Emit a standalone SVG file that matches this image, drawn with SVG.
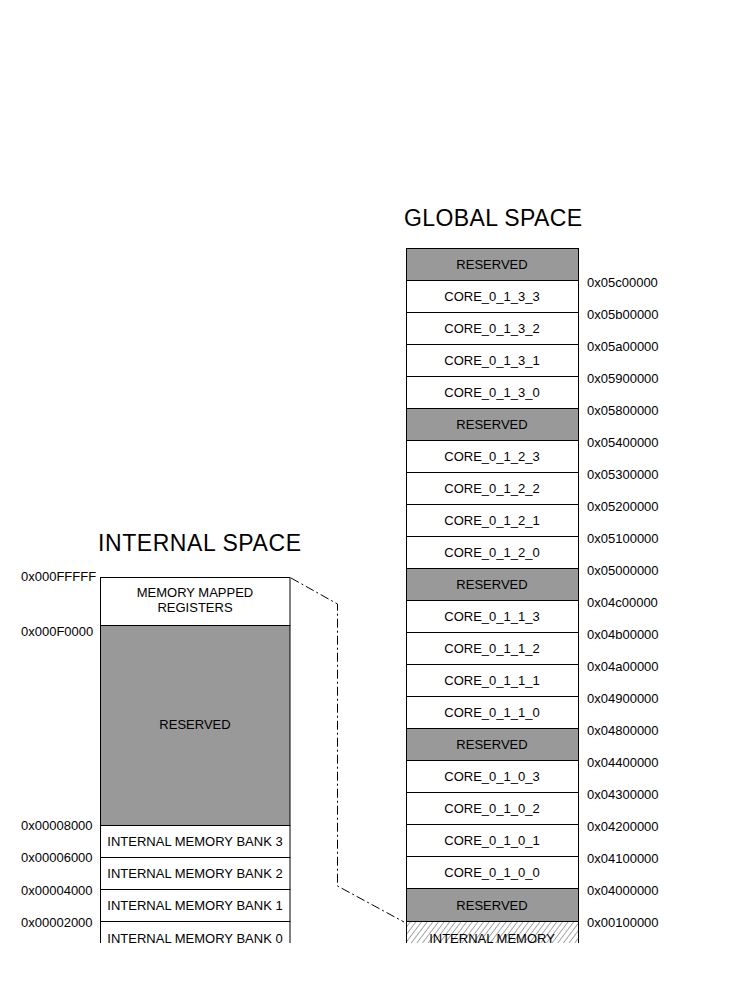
<svg xmlns="http://www.w3.org/2000/svg" width="741" height="981" viewBox="0 0 741 981">
  <style>
    .box { stroke: #000; stroke-width: 1; }
    .res { fill: #999999; }
    .mem { fill: #ffffff; }
    .t { font-family: "Liberation Sans", Arial, sans-serif; font-size: 13px; fill: #000; }
    .c { text-anchor: middle; }
    .title { font-family: "Liberation Sans", Arial, sans-serif; font-size: 23px; fill: #000; }
    .link { fill: none; stroke: #000; stroke-width: 1; stroke-dasharray: 9 3 2 3; }
  </style>
  <defs>
    <clipPath id="pageClip"><rect x="0" y="0" width="741" height="943"/></clipPath>
    <pattern id="hatch" patternUnits="userSpaceOnUse" width="4.5" height="6" patternTransform="rotate(37)">
      <rect width="4.5" height="6" fill="#fff"/>
      <line x1="0" y1="0" x2="0" y2="6" stroke="#333" stroke-width="0.9"/>
    </pattern>
  </defs>
  <rect width="741" height="981" fill="#fff"/>

  <g clip-path="url(#pageClip)">
    <!-- titles -->
    <text class="title" x="404" y="226" textLength="178">GLOBAL SPACE</text>
    <text class="title" x="98" y="551" textLength="203">INTERNAL SPACE</text>

    <!-- internal address map -->
    <g id="int-mmr"><rect class="box mem" x="100.5" y="577.5" width="189.5" height="48"/>
      <text class="t c" x="195" y="597">MEMORY MAPPED</text>
      <text class="t c" x="195" y="612">REGISTERS</text></g>
    <g id="int-reserved"><rect class="box res" x="100.5" y="625.5" width="189.5" height="200"/>
      <text class="t c" x="195" y="729">RESERVED</text></g>
    <g id="int-bank3"><rect class="box mem" x="100.5" y="825.5" width="189.5" height="32"/>
      <text class="t c" x="195" y="846">INTERNAL MEMORY BANK 3</text></g>
    <g id="int-bank2"><rect class="box mem" x="100.5" y="857.5" width="189.5" height="32"/>
      <text class="t c" x="195" y="878">INTERNAL MEMORY BANK 2</text></g>
    <g id="int-bank1"><rect class="box mem" x="100.5" y="889.5" width="189.5" height="32"/>
      <text class="t c" x="195" y="910">INTERNAL MEMORY BANK 1</text></g>
    <g id="int-bank0"><rect class="box mem" x="100.5" y="921.5" width="189.5" height="40"/>
      <text class="t c" x="195" y="942.5">INTERNAL MEMORY BANK 0</text></g>

    <g id="int-addresses">
      <text class="t" x="21" y="581">0x000FFFFF</text>
      <text class="t" x="21" y="636">0x000F0000</text>
      <text class="t" x="21" y="830">0x00008000</text>
      <text class="t" x="21" y="862">0x00006000</text>
      <text class="t" x="21" y="895">0x00004000</text>
      <text class="t" x="21" y="927">0x00002000</text>
    </g>

    <!-- global address map -->
    <g id="g-res-4"><rect class="box res" x="406.5" y="248.5" width="172" height="32"/><text class="t c" x="492" y="269">RESERVED</text></g>
    <g id="g-core-0-1-3-3"><rect class="box mem" x="406.5" y="280.5" width="172" height="32"/><text class="t c" x="492" y="301">CORE_0_1_3_3</text></g>
    <g id="g-core-0-1-3-2"><rect class="box mem" x="406.5" y="312.5" width="172" height="32"/><text class="t c" x="492" y="333">CORE_0_1_3_2</text></g>
    <g id="g-core-0-1-3-1"><rect class="box mem" x="406.5" y="344.5" width="172" height="32"/><text class="t c" x="492" y="365">CORE_0_1_3_1</text></g>
    <g id="g-core-0-1-3-0"><rect class="box mem" x="406.5" y="376.5" width="172" height="32"/><text class="t c" x="492" y="397">CORE_0_1_3_0</text></g>
    <g id="g-res-3"><rect class="box res" x="406.5" y="408.5" width="172" height="32"/><text class="t c" x="492" y="429">RESERVED</text></g>
    <g id="g-core-0-1-2-3"><rect class="box mem" x="406.5" y="440.5" width="172" height="32"/><text class="t c" x="492" y="461">CORE_0_1_2_3</text></g>
    <g id="g-core-0-1-2-2"><rect class="box mem" x="406.5" y="472.5" width="172" height="32"/><text class="t c" x="492" y="493">CORE_0_1_2_2</text></g>
    <g id="g-core-0-1-2-1"><rect class="box mem" x="406.5" y="504.5" width="172" height="32"/><text class="t c" x="492" y="525">CORE_0_1_2_1</text></g>
    <g id="g-core-0-1-2-0"><rect class="box mem" x="406.5" y="536.5" width="172" height="32"/><text class="t c" x="492" y="557">CORE_0_1_2_0</text></g>
    <g id="g-res-2"><rect class="box res" x="406.5" y="568.5" width="172" height="32"/><text class="t c" x="492" y="589">RESERVED</text></g>
    <g id="g-core-0-1-1-3"><rect class="box mem" x="406.5" y="600.5" width="172" height="32"/><text class="t c" x="492" y="621">CORE_0_1_1_3</text></g>
    <g id="g-core-0-1-1-2"><rect class="box mem" x="406.5" y="632.5" width="172" height="32"/><text class="t c" x="492" y="653">CORE_0_1_1_2</text></g>
    <g id="g-core-0-1-1-1"><rect class="box mem" x="406.5" y="664.5" width="172" height="32"/><text class="t c" x="492" y="685">CORE_0_1_1_1</text></g>
    <g id="g-core-0-1-1-0"><rect class="box mem" x="406.5" y="696.5" width="172" height="32"/><text class="t c" x="492" y="717">CORE_0_1_1_0</text></g>
    <g id="g-res-1"><rect class="box res" x="406.5" y="728.5" width="172" height="32"/><text class="t c" x="492" y="749">RESERVED</text></g>
    <g id="g-core-0-1-0-3"><rect class="box mem" x="406.5" y="760.5" width="172" height="32"/><text class="t c" x="492" y="781">CORE_0_1_0_3</text></g>
    <g id="g-core-0-1-0-2"><rect class="box mem" x="406.5" y="792.5" width="172" height="32"/><text class="t c" x="492" y="813">CORE_0_1_0_2</text></g>
    <g id="g-core-0-1-0-1"><rect class="box mem" x="406.5" y="824.5" width="172" height="32"/><text class="t c" x="492" y="845">CORE_0_1_0_1</text></g>
    <g id="g-core-0-1-0-0"><rect class="box mem" x="406.5" y="856.5" width="172" height="32"/><text class="t c" x="492" y="877">CORE_0_1_0_0</text></g>
    <g id="g-res-0"><rect class="box res" x="406.5" y="888.5" width="172" height="33"/><text class="t c" x="492" y="910">RESERVED</text></g>
    <g id="g-internal"><rect class="box" fill="url(#hatch)" x="406.5" y="921.5" width="172" height="40"/><text class="t c" x="492" y="942.5">INTERNAL MEMORY</text></g>

    <g id="g-addresses">
      <text class="t" x="587" y="287">0x05c00000</text>
      <text class="t" x="587" y="319">0x05b00000</text>
      <text class="t" x="587" y="351">0x05a00000</text>
      <text class="t" x="587" y="383">0x05900000</text>
      <text class="t" x="587" y="415">0x05800000</text>
      <text class="t" x="587" y="447">0x05400000</text>
      <text class="t" x="587" y="479">0x05300000</text>
      <text class="t" x="587" y="511">0x05200000</text>
      <text class="t" x="587" y="543">0x05100000</text>
      <text class="t" x="587" y="575">0x05000000</text>
      <text class="t" x="587" y="607">0x04c00000</text>
      <text class="t" x="587" y="639">0x04b00000</text>
      <text class="t" x="587" y="671">0x04a00000</text>
      <text class="t" x="587" y="703">0x04900000</text>
      <text class="t" x="587" y="735">0x04800000</text>
      <text class="t" x="587" y="767">0x04400000</text>
      <text class="t" x="587" y="799">0x04300000</text>
      <text class="t" x="587" y="831">0x04200000</text>
      <text class="t" x="587" y="863">0x04100000</text>
      <text class="t" x="587" y="895">0x04000000</text>
      <text class="t" x="587" y="927">0x00100000</text>
    </g>

    <!-- dash-dot bracket mapping the internal space into global space -->
    <g id="connectors">
      <polyline class="link" points="291,578 337.5,604 337.5,886 404,922"/>
    </g>
  </g>
</svg>
